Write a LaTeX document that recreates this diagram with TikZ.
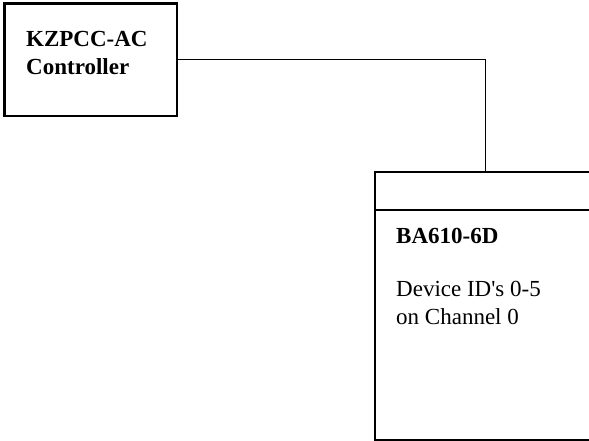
\documentclass[tikz,border=0pt]{standalone}
\usepackage{fontspec}
\setmainfont{Liberation Serif}
\usetikzlibrary{positioning}
\begin{document}
\begin{tikzpicture}[x=1pt, y=-1pt,
	    box/.style={draw, line width=2.2pt, rectangle, inner sep=0pt, outer sep=0pt, anchor=north west},
	    lbl/.style={anchor=base west, inner sep=0pt, font=\fontsize{23}{27.6}\selectfont},
	    title/.style={lbl, font=\bfseries\fontsize{23}{27.6}\selectfont},
	    wire/.style={line width=0.9pt}]
	    \useasboundingbox (0,0) rectangle (589,441);
	    \clip (0,0) rectangle (589,441);
	    \node[box, minimum width=172.5pt, minimum height=112.5pt] (ctrl) at (4.5,3.5) {};
	    \node[box, minimum width=245pt, minimum height=268pt] (shelf) at (375,172) {};
	    \coordinate (div) at (375,210);
	    \draw[line width=2.2pt] (div) -- (div -| shelf.east);
	    \draw[wire] (ctrl.east) -| ([xshift=110.7pt]shelf.north west);
	    \node[title] (ctrlname) at (26,47) {KZPCC-AC};
	    \node[title] (ctrlrole) at (26,75) {Controller};
	    \node[title] (shelfname) at (396,243) {BA610-6D};
	    \node[lbl] (ids) at (396,296) {Device ID\textquotesingle s 0-5};
	    \node[lbl] (chan) at (396,324) {on Channel 0};
	  \end{tikzpicture}
\end{document}
